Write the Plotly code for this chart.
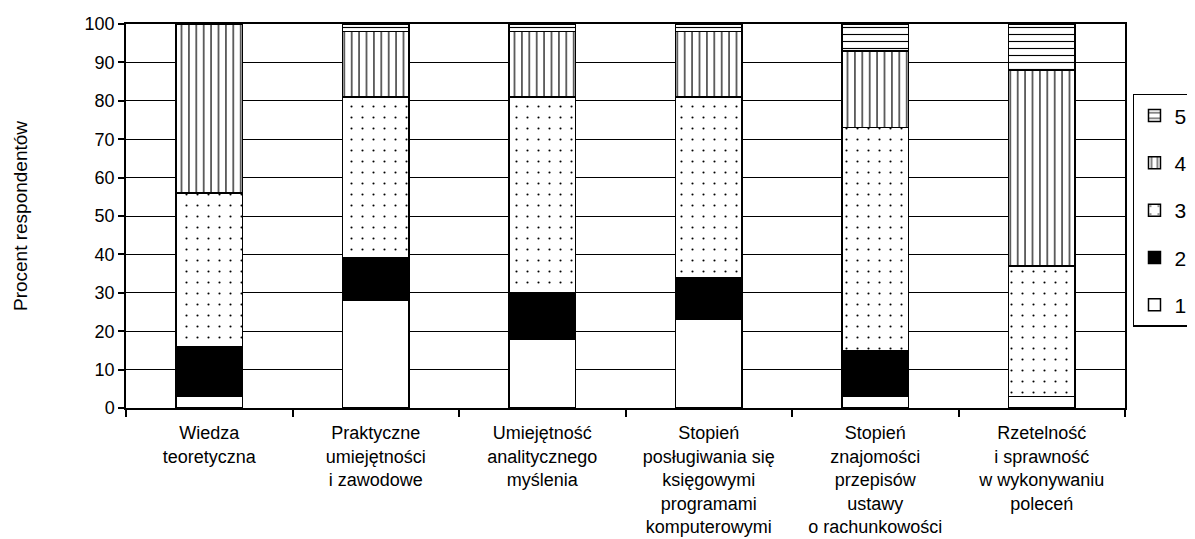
import plotly.graph_objects as go

categories = [
    "Wiedza<br>teoretyczna",
    "Praktyczne<br>umiejętności<br>i zawodowe",
    "Umiejętność<br>analitycznego<br>myślenia",
    "Stopień<br>posługiwania się<br>księgowymi<br>programami<br>komputerowymi",
    "Stopień<br>znajomości<br>przepisów<br>ustawy<br>o rachunkowości",
    "Rzetelność<br>i sprawność<br>w wykonywaniu<br>poleceń",
]
series_names = ["1", "2", "3", "4", "5"]
values_1 = [3, 28, 18, 23, 3, 3]
values_2 = [13, 11, 12, 11, 12, 0]
values_3 = [40, 42, 51, 47, 58, 34]
values_4 = [44, 17, 17, 17, 20, 51]
values_5 = [0, 2, 2, 2, 7, 12]
y_ticks = [0, 10, 20, 30, 40, 50, 60, 70, 80, 90, 100]

all_values = [values_1, values_2, values_3, values_4, values_5]
styles = [
    dict(color="white"),
    dict(color="black"),
    dict(color="white", pattern=dict(shape=".", fgcolor="black", bgcolor="white",
                                     size=11, solidity=0.03, fillmode="replace")),
    dict(color="white", pattern=dict(shape="|", fgcolor="black", bgcolor="white",
                                     size=7.4, solidity=0.16, fillmode="replace")),
    dict(color="white", pattern=dict(shape="-", fgcolor="black", bgcolor="white",
                                     size=7, solidity=0.16, fillmode="replace")),
]

fig = go.Figure()
n = len(series_names)
for i, (name, vals, st) in enumerate(zip(series_names, all_values, styles)):
    marker = dict(line=dict(color="black", width=1.5), **st)
    fig.add_trace(go.Bar(x=categories, y=vals, name=name, marker=marker,
                         width=0.4, legendgroup=name, legendrank=n - i))

# page body has an 8px margin, so the figure is drawn 8px in from the top-left
fig.update_layout(
    barmode="stack",
    width=1195, height=531,
    margin=dict(l=118, r=78, t=16, b=131, autoexpand=False),
    paper_bgcolor="white", plot_bgcolor="white",
    font=dict(family="Liberation Sans, Arial, sans-serif", color="black", size=18),
    showlegend=True,
    legend=dict(x=1.008, xanchor="left", y=0.818, yanchor="top",
                traceorder="grouped", bordercolor="black", borderwidth=1.5,
                font=dict(size=21), tracegroupgap=17, bgcolor="white",
                itemwidth=30),
    xaxis=dict(type="category", tickson="boundaries", ticks="outside", ticklen=7,
               tickwidth=1.5, tickcolor="black", showline=True, linecolor="black",
               linewidth=1.5, mirror=True, showgrid=False, ticklabelstandoff=8,
               tickfont=dict(size=18)),
    yaxis=dict(range=[0, 100], tickvals=y_ticks, ticks="outside", ticklen=6,
               tickwidth=1.5, tickcolor="black", showline=True, linecolor="black",
               linewidth=1.5, mirror=True, showgrid=True, gridcolor="black",
               gridwidth=1.2, zeroline=False, tickfont=dict(size=18),
               title=dict(text="Procent respondentów", font=dict(size=19), standoff=52)),
)

fig.write_html("out.html")
